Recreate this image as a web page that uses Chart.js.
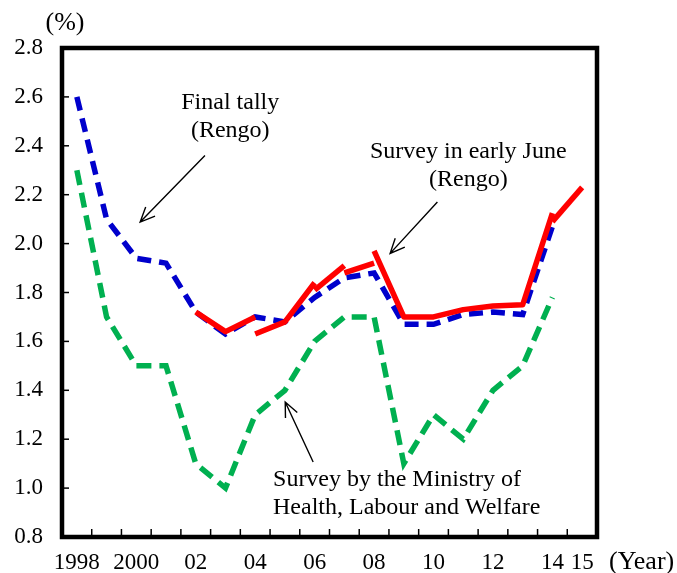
<!DOCTYPE html>
<html>
<head>
<meta charset="utf-8">
<script src="https://cdn.jsdelivr.net/npm/chart.js@4.4.0/dist/chart.umd.min.js"></script>
<style>
  html, body { margin: 0; padding: 0; background: #fff; }
  #wrap { width: 677px; height: 573px; }
</style>
</head>
<body>
<div id="wrap"><canvas id="chart" width="677" height="573"></canvas></div>
<script>
// Datos del gráfico
const years = ['1998', '1999', '2000', '2001', '2002', '2003', '2004', '2005', '2006',
    '2007', '2008', '2009', '2010', '2011', '2012', '2013', '2014', '2015'];
const yearLabels = ['1998', '', '2000', '', '02', '', '04', '', '06', '', '08', '', '10', '', '12', '', '14', '15'];
const yTicks = [0.8, 1.0, 1.2, 1.4, 1.6, 1.8, 2.0, 2.2, 2.4, 2.6, 2.8];

// Final tally (Rengo)
const finalTally = [2.60, 2.10, 1.94, 1.92, 1.72, 1.63, 1.70, 1.68, 1.78, 1.86, 1.88, 1.67, 1.67, 1.71, 1.72, 1.71, 2.07, null];
// Survey by the Ministry of Health, Labour and Welfare
const ministry = [2.30, 1.70, 1.50, 1.50, 1.10, 1.00, 1.30, 1.40, 1.60, 1.70, 1.70, 1.10, 1.30, 1.20, 1.40, 1.50, 1.78, null];
// Survey in early June (Rengo), drawn in pieces
const n = null;
const juneA = [n, n, n, n, 1.72, 1.64, 1.70, n, n, n, n, n, n, n, n, n, n, n];
const juneB = [n, n, n, n, n, n, 1.63, 1.68, 1.84, n, n, n, n, n, n, n, n, n];
const juneC = [n, n, n, n, n, n, n, n, 1.81, 1.91, n, n, n, n, n, n, n, n];
const juneD = [n, n, n, n, n, n, n, n, n, 1.88, 1.92, n, n, n, n, n, n, n];
const juneE = [n, n, n, n, n, n, n, n, n, n, 1.97, 1.70, 1.70, 1.73, 1.745, 1.75, 2.125, n];
const juneF = [n, n, n, n, n, n, n, n, n, n, n, n, n, n, n, n, 2.09, 2.23];

const FONT = '"Liberation Serif", "Times New Roman", serif';

function redPiece(values) {
    return {
        data: values,
        borderColor: '#ff0000',
        borderWidth: 5.5,
        borderCapStyle: 'butt',
        borderJoinStyle: 'round',
        pointRadius: 0,
        tension: 0,
        spanGaps: false
    };
}

// Marco, marcas hacia dentro y textos
const framePlugin = {
    id: 'frame',
    afterDatasetsDraw(chart) {
        const { ctx, chartArea: a, scales: { x, y } } = chart;
        ctx.save();
        ctx.strokeStyle = '#000';

        // marcas del eje X (entre categorías)
        ctx.lineWidth = 1.5;
        for (let i = 1; i < years.length; i++) {
            const px = (x.getPixelForValue(i - 1) + x.getPixelForValue(i)) / 2;
            ctx.beginPath();
            ctx.moveTo(px, a.bottom);
            ctx.lineTo(px, a.bottom - 8);
            ctx.stroke();
        }
        // marcas del eje Y
        yTicks.forEach(v => {
            const py = y.getPixelForValue(v);
            ctx.beginPath();
            ctx.moveTo(a.left, py);
            ctx.lineTo(a.left + 7, py);
            ctx.stroke();
        });

        // marco
        ctx.lineWidth = 4.5;
        ctx.strokeRect(a.left, a.top, a.right - a.left, a.bottom - a.top);

        // textos
        ctx.fillStyle = '#000';
        ctx.font = '24px ' + FONT;
        ctx.textBaseline = 'middle';
        ctx.textAlign = 'center';
        const X = v => x.getPixelForValue(0) + v * (x.getPixelForValue(1) - x.getPixelForValue(0));
        const Y = v => y.getPixelForValue(v);

        ctx.fillText('Final tally', X(5.16), Y(2.575));
        ctx.fillText('(Rengo)', X(5.16), Y(2.46));
        ctx.fillText('Survey in early June', X(13.17), Y(2.375));
        ctx.fillText('(Rengo)', X(13.17), Y(2.26));
        ctx.textAlign = 'left';
        ctx.fillText('Survey by the Ministry of', X(6.6), Y(1.033));
        ctx.fillText('Health, Labour and Welfare', X(6.6), Y(0.919));

        arrow(ctx, X(4.31), Y(2.36), X(2.13), Y(2.088));
        arrow(ctx, X(12.13), Y(2.17), X(10.54), Y(1.96));
        arrow(ctx, X(7.95), Y(1.107), X(7.01), Y(1.352));

        // unidades
        ctx.font = '26px ' + FONT;
        ctx.textAlign = 'center';
        ctx.fillText('(%)', 65, 23);
        ctx.textAlign = 'left';
        ctx.fillText('(Year)', 609, 562);
        ctx.restore();
    }
};

function arrow(ctx, x1, y1, x2, y2) {
    const ang = Math.atan2(y2 - y1, x2 - x1);
    const head = 16, spread = 0.42;
    ctx.lineWidth = 1.4;
    ctx.beginPath();
    ctx.moveTo(x1, y1);
    ctx.lineTo(x2, y2);
    ctx.moveTo(x2 - head * Math.cos(ang - spread), y2 - head * Math.sin(ang - spread));
    ctx.lineTo(x2, y2);
    ctx.lineTo(x2 - head * Math.cos(ang + spread), y2 - head * Math.sin(ang + spread));
    ctx.stroke();
}

new Chart(document.getElementById('chart').getContext('2d'), {
    type: 'line',
    data: {
        labels: years,
        datasets: [
            redPiece(juneA), redPiece(juneB), redPiece(juneC),
            redPiece(juneD), redPiece(juneE), redPiece(juneF),
            {
                data: finalTally,
                borderColor: '#0000cc',
                borderWidth: 5.5,
                borderDash: [14, 8],
                borderCapStyle: 'butt',
                pointRadius: 0,
                tension: 0
            },
            {
                data: ministry,
                borderColor: '#00b050',
                borderWidth: 5.5,
                borderDash: [15, 8],
                borderCapStyle: 'butt',
                pointRadius: 0,
                tension: 0
            }
        ]
    },
    options: {
        responsive: false,
        animation: false,
        devicePixelRatio: 1,
        layout: { padding: { top: 48, right: 80, left: 0, bottom: 0 } },
        plugins: { legend: { display: false }, tooltip: { enabled: false } },
        scales: {
            x: {
                offset: true,
                grid: { display: false, drawTicks: false },
                border: { display: false },
                ticks: {
                    autoSkip: false,
                    maxRotation: 0,
                    padding: 12,
                    color: '#000',
                    font: { family: FONT, size: 23 },
                    callback: (v, i) => yearLabels[i]
                },
                afterFit: s => { s.height = 36; }
            },
            y: {
                min: 0.8,
                max: 2.8,
                grid: { display: false, drawTicks: false },
                border: { display: false },
                ticks: {
                    stepSize: 0.2,
                    padding: 19,
                    color: '#000',
                    font: { family: FONT, size: 23 },
                    callback: v => v.toFixed(1)
                },
                afterFit: s => { s.width = 62; }
            }
        }
    },
    plugins: [framePlugin]
});
</script>
</body>
</html>
